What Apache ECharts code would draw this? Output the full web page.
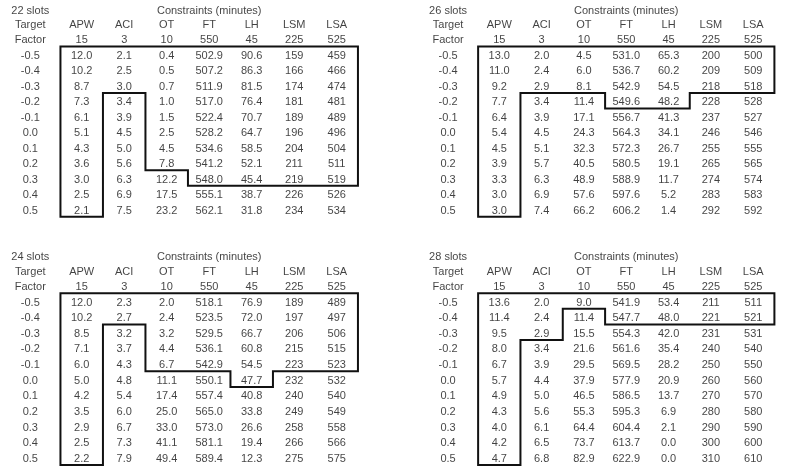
<!DOCTYPE html>
<html>
<head>
<meta charset="utf-8">
<script src="https://cdn.jsdelivr.net/npm/echarts@6/dist/echarts.min.js"></script>
<style>html,body{margin:0;padding:0;background:#fff}#c{width:791px;height:475px}</style>
</head>
<body>
<div id="c"></div>
<script>
// ---- data ----
const columns = ['APW', 'ACI', 'OT', 'FT', 'LH', 'LSM', 'LSA'];
const targets = [15, 3, 10, 550, 45, 225, 525];
const factors = ['-0.5', '-0.4', '-0.3', '-0.2', '-0.1', '0.0', '0.1', '0.2', '0.3', '0.4', '0.5'];
const decimals = [1, 1, 1, 1, 1, 0, 0];

const slots22 = [
  [12.0, 2.1, 0.4, 502.9, 90.6, 159, 459],
  [10.2, 2.5, 0.5, 507.2, 86.3, 166, 466],
  [8.7, 3.0, 0.7, 511.9, 81.5, 174, 474],
  [7.3, 3.4, 1.0, 517.0, 76.4, 181, 481],
  [6.1, 3.9, 1.5, 522.4, 70.7, 189, 489],
  [5.1, 4.5, 2.5, 528.2, 64.7, 196, 496],
  [4.3, 5.0, 4.5, 534.6, 58.5, 204, 504],
  [3.6, 5.6, 7.8, 541.2, 52.1, 211, 511],
  [3.0, 6.3, 12.2, 548.0, 45.4, 219, 519],
  [2.5, 6.9, 17.5, 555.1, 38.7, 226, 526],
  [2.1, 7.5, 23.2, 562.1, 31.8, 234, 534]
];
const slots26 = [
  [13.0, 2.0, 4.5, 531.0, 65.3, 200, 500],
  [11.0, 2.4, 6.0, 536.7, 60.2, 209, 509],
  [9.2, 2.9, 8.1, 542.9, 54.5, 218, 518],
  [7.7, 3.4, 11.4, 549.6, 48.2, 228, 528],
  [6.4, 3.9, 17.1, 556.7, 41.3, 237, 527],
  [5.4, 4.5, 24.3, 564.3, 34.1, 246, 546],
  [4.5, 5.1, 32.3, 572.3, 26.7, 255, 555],
  [3.9, 5.7, 40.5, 580.5, 19.1, 265, 565],
  [3.3, 6.3, 48.9, 588.9, 11.7, 274, 574],
  [3.0, 6.9, 57.6, 597.6, 5.2, 283, 583],
  [3.0, 7.4, 66.2, 606.2, 1.4, 292, 592]
];
const slots24 = [
  [12.0, 2.3, 2.0, 518.1, 76.9, 189, 489],
  [10.2, 2.7, 2.4, 523.5, 72.0, 197, 497],
  [8.5, 3.2, 3.2, 529.5, 66.7, 206, 506],
  [7.1, 3.7, 4.4, 536.1, 60.8, 215, 515],
  [6.0, 4.3, 6.7, 542.9, 54.5, 223, 523],
  [5.0, 4.8, 11.1, 550.1, 47.7, 232, 532],
  [4.2, 5.4, 17.4, 557.4, 40.8, 240, 540],
  [3.5, 6.0, 25.0, 565.0, 33.8, 249, 549],
  [2.9, 6.7, 33.0, 573.0, 26.6, 258, 558],
  [2.5, 7.3, 41.1, 581.1, 19.4, 266, 566],
  [2.2, 7.9, 49.4, 589.4, 12.3, 275, 575]
];
const slots28 = [
  [13.6, 2.0, 9.0, 541.9, 53.4, 211, 511],
  [11.4, 2.4, 11.4, 547.7, 48.0, 221, 521],
  [9.5, 2.9, 15.5, 554.3, 42.0, 231, 531],
  [8.0, 3.4, 21.6, 561.6, 35.4, 240, 540],
  [6.7, 3.9, 29.5, 569.5, 28.2, 250, 550],
  [5.7, 4.4, 37.9, 577.9, 20.9, 260, 560],
  [4.9, 5.0, 46.5, 586.5, 13.7, 270, 570],
  [4.3, 5.6, 55.3, 595.3, 6.9, 280, 580],
  [4.0, 6.1, 64.4, 604.4, 2.1, 290, 590],
  [4.2, 6.5, 73.7, 613.7, 0.0, 300, 600],
  [4.7, 6.8, 82.9, 622.9, 0.0, 310, 610]
];

// Outlined regions, as (column boundary, row boundary) vertices of cell edges
const outline22 = [[0,0],[7,0],[7,9],[3,9],[3,8],[2,8],[2,3],[1,3],[1,11],[0,11]];
const outline26 = [[0,0],[7,0],[7,3],[5,3],[5,4],[3,4],[3,3],[1,3],[1,11],[0,11]];
const outline24 = [[0,0],[7,0],[7,5],[5,5],[5,6],[4,6],[4,5],[2,5],[2,2],[1,2],[1,11],[0,11]];
const outline28 = [[0,0],[7,0],[7,2],[3,2],[3,1],[2,1],[2,3],[1,3],[1,11],[0,11]];

const panels = [
  { title: '22 slots', values: slots22, outline: outline22 },
  { title: '26 slots', values: slots26, outline: outline26 },
  { title: '24 slots', values: slots24, outline: outline24 },
  { title: '28 slots', values: slots28, outline: outline28 }
];

// ---- layout ----
const gridBoxes = [
  { left: 5.2, top: 0.15, width: 365.5, height: 216.6 },
  { left: 423.1, top: 0.15, width: 364, height: 216.6 },
  { left: 5.2, top: 246.3, width: 365.5, height: 218.8 },
  { left: 423.1, top: 246.3, width: 364, height: 218.8 }
];
const labelCol = -1.21;
const FONT = 'Liberation Sans, Arial, Helvetica, sans-serif';

const grids = [], xAxes = [], yAxes = [], series = [];
panels.forEach((p, i) => {
  grids.push(Object.assign({ containLabel: false }, gridBoxes[i]));
  xAxes.push({ type: 'value', gridIndex: i, min: -1.8, max: 6.8, show: false });
  yAxes.push({ type: 'value', gridIndex: i, min: -3.5, max: 10.5, inverse: true, show: false });

  const texts = [];
  texts.push([labelCol, -2.92, p.title]);
  texts.push([3, -2.92, 'Constraints (minutes)']);
  texts.push([labelCol, -1.97, 'Target']);
  texts.push([labelCol, -1.01, 'Factor']);
  columns.forEach((c, ci) => {
    texts.push([ci, -1.97, c]);
    texts.push([ci, -1.01, String(targets[ci])]);
  });
  factors.forEach((f, ri) => {
    texts.push([labelCol, ri, f]);
    p.values[ri].forEach((v, ci) => {
      texts.push([ci, ri, v.toFixed(decimals[ci])]);
    });
  });

  series.push({
    type: 'scatter',
    xAxisIndex: i, yAxisIndex: i,
    symbolSize: 1,
    itemStyle: { color: 'rgba(0,0,0,0)' },
    silent: true,
    data: texts,
    label: {
      show: true,
      position: 'inside',
      offset: [0, 1.5],
      formatter: (q) => q.value[2],
      color: '#111',
      fontFamily: FONT,
      fontSize: 11
    }
  });

  const outline = p.outline;
  series.push({
    type: 'custom',
    xAxisIndex: i, yAxisIndex: i,
    clip: false,
    silent: true,
    data: [[0, 0]],
    renderItem: (params, api) => ({
      type: 'polygon',
      shape: { points: outline.map(([c, r]) => api.coord([c - 0.5, r - 0.5])) },
      style: { fill: 'none', stroke: '#111', lineWidth: 2 }
    })
  });
});

const chart = echarts.init(document.getElementById('c'), null, { renderer: 'canvas' });
chart.setOption({
  animation: false,
  backgroundColor: '#fff',
  grid: grids,
  xAxis: xAxes,
  yAxis: yAxes,
  series: series
});
</script>
</body>
</html>
